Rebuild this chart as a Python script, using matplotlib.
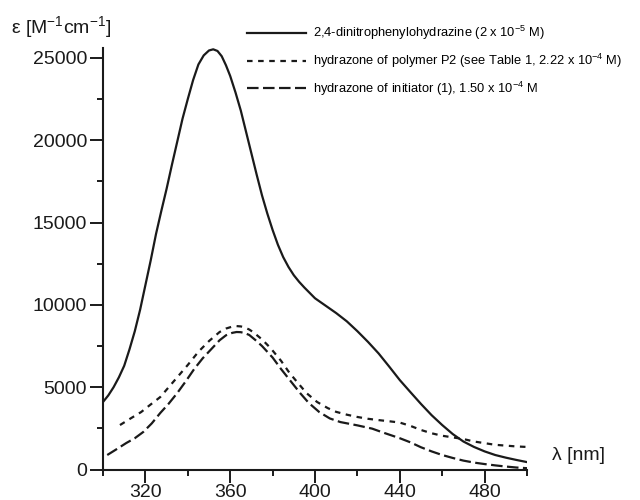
import matplotlib
matplotlib.use("Agg")
import matplotlib.pyplot as plt
from matplotlib.ticker import MultipleLocator

plt.rcParams['font.family'] = ['Liberation Sans', 'DejaVu Sans']
plt.rcParams['mathtext.fontset'] = 'custom'
plt.rcParams['mathtext.rm'] = 'Liberation Sans'
plt.rcParams['mathtext.it'] = 'Liberation Sans:italic'

# 2,4-dinitrophenylohydrazine
wl_dnph = [300, 302.5, 305, 307.5, 310, 312.5, 315, 317.5, 320, 322.5, 325, 327.5, 330, 332.5,
           335, 337.5, 340, 342.5, 345, 347.5, 350, 352, 354, 356, 358, 360, 362.5, 365, 367.5,
           370, 372.5, 375, 377.5, 380, 382.5, 385, 387.5, 390, 392.5, 395, 400, 405, 410,
           415, 420, 425, 430, 435, 440, 445, 450, 455, 460, 465, 470, 475, 480, 485, 490,
           495, 500]
eps_dnph = [4100, 4500, 5000, 5600, 6300, 7300, 8400, 9700, 11200, 12700, 14300, 15700, 17050, 18500,
            19900, 21300, 22500, 23650, 24600, 25150, 25450, 25520, 25420, 25100, 24550, 23900, 22900, 21800, 20500,
            19200, 17900, 16650, 15550, 14550, 13650, 12900, 12300, 11800, 11400, 11050, 10400, 9950, 9500,
            9000, 8400, 7750, 7050, 6250, 5430, 4700, 3980, 3300, 2700, 2150, 1700, 1370, 1100, 880, 720,
            580, 450]

# hydrazone of polymer P2
wl_p2 = [308, 313, 318, 322, 327, 331, 335, 340, 345, 350, 355, 358, 361, 363, 365, 367,
         369, 371, 375, 379, 384, 388, 392, 396, 401, 406, 410, 415, 420, 425, 430,
         435, 440, 445, 450, 455, 460, 465, 470, 475, 480, 485, 490, 495, 500]
eps_p2 = [2700, 3100, 3490, 3900, 4400, 5000, 5600, 6350, 7150, 7800, 8350, 8560, 8680, 8710, 8690, 8620,
          8500, 8330, 7900, 7380, 6600, 5860, 5250, 4640, 4100, 3730, 3500, 3330, 3190, 3080, 3000,
          2930, 2850, 2650, 2400, 2200, 2050, 1950, 1850, 1700, 1600, 1500, 1450, 1400, 1370]

# hydrazone of initiator (1)
wl_ini = [302, 306, 311, 315, 319, 323, 327, 331, 335, 339, 343, 347, 351, 355, 358, 361,
          363, 365, 367, 369, 372, 375, 380, 384, 388, 393, 397, 402, 407, 412, 420, 427,
          432, 440, 445, 450, 455, 460, 465, 470, 475, 480, 485, 490, 495, 500]
eps_ini = [880, 1200, 1610, 1900, 2280, 2800, 3430, 4000, 4640, 5350, 6100, 6750, 7300, 7850, 8150, 8300,
           8350, 8340, 8280, 8170, 7850, 7500, 6800, 6100, 5450, 4640, 4050, 3490, 3100, 2880, 2680, 2480,
           2250, 1900, 1650, 1350, 1100, 880, 700, 540, 420, 330, 250, 180, 120, 80]

labels = ['2,4-dinitrophenylohydrazine (2 x 10$^{-5}$ M)',
          'hydrazone of polymer P2 (see Table 1, 2.22 x 10$^{-4}$ M)',
          'hydrazone of initiator (1), 1.50 x 10$^{-4}$ M']

fig = plt.figure(figsize=(6.4, 5), dpi=100)
ax = fig.add_axes([103 / 640, 1 - 469.5 / 500, (527 - 103) / 640, (469.5 - 48) / 500])

col = '#1a1a1a'
l1, = ax.plot(wl_dnph, eps_dnph, color=col, lw=1.6, ls='-')
l2, = ax.plot(wl_p2, eps_p2, color=col, lw=1.6, ls=(0, (2.5, 2.5)))
l3, = ax.plot(wl_ini, eps_ini, color=col, lw=1.6, ls=(0, (5.2, 2)))

ax.set_xlim(300, 500)
ax.set_ylim(0, 25600)
ax.xaxis.set_major_locator(MultipleLocator(40))
ax.xaxis.set_minor_locator(MultipleLocator(20))
ax.yaxis.set_major_locator(MultipleLocator(5000))
ax.yaxis.set_minor_locator(MultipleLocator(2500))
ax.set_xticks([320, 360, 400, 440, 480])

for s in ['top', 'right']:
    ax.spines[s].set_visible(False)
for s in ['left', 'bottom']:
    ax.spines[s].set_linewidth(1.5)
    ax.spines[s].set_color(col)
ax.tick_params(which='major', direction='out', length=9.5, width=1.4, labelsize=14,
               colors=col, pad=2)
ax.tick_params(axis='x', which='major', pad=1)
ax.tick_params(which='minor', direction='out', length=4.5, width=1.4, colors=col)

fig.text(11 / 640, 1 - 27 / 500, 'ε [M$^{-1}$cm$^{-1}$]', fontsize=14, va='center', ha='left',
         color=col)
fig.text(552 / 640, 1 - 455 / 500, 'λ [nm]', fontsize=14, va='center', ha='left', color=col)

fig.legend([l1, l2, l3], labels, loc='upper left', bbox_to_anchor=(247 / 640, 1 - 24 / 500),
           frameon=False, fontsize=9.3, handlelength=4.6, handletextpad=0.5,
           labelspacing=0.75, borderpad=0, borderaxespad=0)

fig.savefig('out.png', dpi=100)
